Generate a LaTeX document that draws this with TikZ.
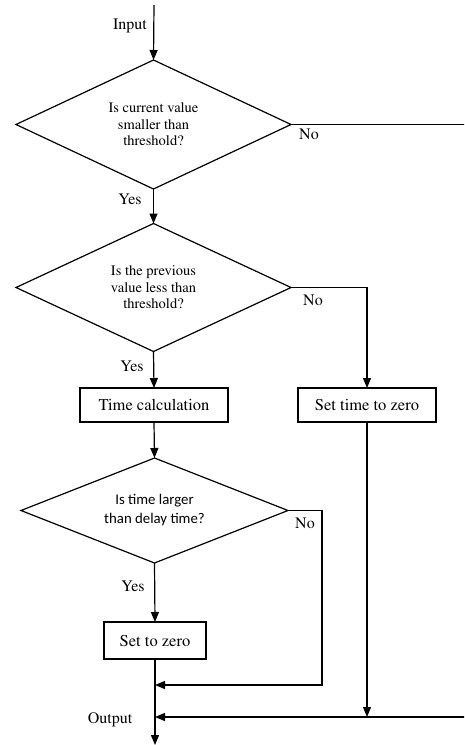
\documentclass[tikz,border=0pt]{standalone}
\usepackage[T1]{fontenc}
\usepackage{fontspec}
\newfontfamily\calibfont{Carlito}
\newcommand\timesfont{\fontencoding{T1}\fontfamily{ptm}\selectfont}
\usetikzlibrary{shapes.geometric,arrows.meta,positioning}

\tikzset{
  decision/.style={draw, diamond, aspect=2.5, line width=1.2pt, inner sep=0pt, outer sep=0pt,
    align=center, font=\timesfont\fontsize{14.5}{16.5}\selectfont},
  process/.style={draw, rectangle, line width=1.2pt, inner sep=0pt, outer sep=0pt,
    minimum height=34pt, font=\timesfont\fontsize{16.5}{18}\selectfont},
  flow/.style={line width=1.2pt, -{Triangle[length=10pt,width=8pt]}},
  wire/.style={line width=1.2pt},
  lbl/.style={inner sep=0pt, font=\timesfont\fontsize{16}{18}\selectfont}
}

\begin{document}
\begin{tikzpicture}[x=1pt, y=-1pt]
  \useasboundingbox (0,0) rectangle (464,745);
  \clip (0,0) rectangle (464,745);

  % decisions
  \node[decision, minimum width=275pt, minimum height=129pt] (curval) at (153.5,124.5)
    {Is current value\\smaller than\\threshold?};
  \node[decision, minimum width=275pt, minimum height=128pt] (prevval) at (153.5,287.5)
    {Is the previous\\value less than\\threshold?};
  \node[decision, minimum width=267pt, minimum height=105pt,
    font=\calibfont\fontsize{14.8}{19}\selectfont] (delay) at (154.5,510.5)
    {Is time larger\\than delay time?};

  % actions
  \node[process, minimum width=148pt] (timecalc) at (154,405) {Time calculation};
  \node[process, minimum width=138pt] (resettime) at (367,405) {Set time to zero};
  \node[process, minimum width=102pt, minimum height=37pt] (setzero) at (155,640.5) {Set to zero};

  % free ends and joins
  \coordinate (in) at (154,5);
  \coordinate (join1) at (155,685);
  \coordinate (join2) at (155,717);
  \coordinate (out) at (155,745);
  \coordinate (farright) at (490,124.5);

  % labels
  \node[lbl] (inputlbl) at (130,26) {Input};
  \node[lbl] (no1) at (309,134) {No};
  \node[lbl] (yes1) at (130,199) {Yes};
  \node[lbl] (no2) at (313,300) {No};
  \node[lbl] (yes2) at (132,366) {Yes};
  \node[lbl] (no3) at (305,523) {No};
  \node[lbl] (yes3) at (133,586) {Yes};
  \node[lbl] (outputlbl) at (110,720) {Output};

  % connectors
  \draw[flow] (in) -- (curval.north);
  \draw[flow] (curval.south) -- (prevval.north);
  \draw[flow] (prevval.south) -- (timecalc.north);
  \draw[flow] (prevval.east) -| (resettime.north);
  \draw[flow] (timecalc.south) -- (delay.north);
  \draw[flow] (delay.south) -- (setzero.north);
  \draw[flow] (delay.east) -- ++(34,0) |- (join1);
  \draw[flow] (resettime.south) -- (resettime.south |- join2);
  \draw[wire] (curval.east) -- (farright);
  \draw[flow] (farright) |- (join2);
  \draw[flow] (setzero.south) -- (out);
\end{tikzpicture}
\end{document}
